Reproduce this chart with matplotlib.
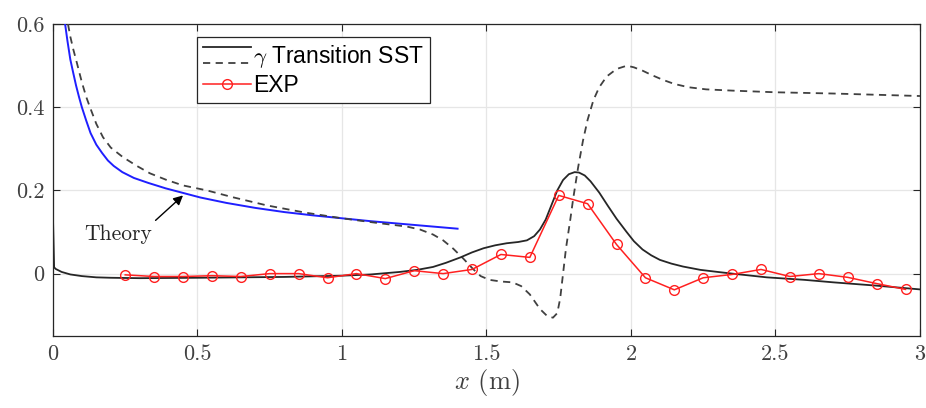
import matplotlib
matplotlib.use("Agg")
import matplotlib.pyplot as plt
from matplotlib.legend_handler import HandlerBase
from matplotlib.lines import Line2D
from matplotlib.ticker import FuncFormatter

plt.rcParams['font.family'] = 'serif'
plt.rcParams['font.serif'] = ['cmr10']
plt.rcParams['mathtext.fontset'] = 'cm'
plt.rcParams['axes.formatter.use_mathtext'] = True

# SST transition model, solid line
sst_x = [0.0, 0.004, 0.01, 0.03, 0.06, 0.1, 0.15, 0.2, 0.3, 0.5, 0.8, 1.0, 1.1, 1.2, 1.26,
         1.315, 1.36, 1.41, 1.45, 1.49, 1.53, 1.57, 1.61, 1.64, 1.665, 1.685, 1.705, 1.725,
         1.745, 1.765, 1.785, 1.805, 1.82, 1.84, 1.86, 1.89, 1.92, 1.95, 1.985, 2.01, 2.04,
         2.07, 2.1, 2.14, 2.18, 2.24, 2.3, 2.35, 2.47, 2.6, 2.7, 2.85, 3.0]
sst_y = [0.135, 0.015, 0.011, 0.004, -0.002, -0.006, -0.009, -0.01, -0.011, -0.01, -0.008,
         -0.005, -0.002, 0.004, 0.009, 0.016, 0.026, 0.039, 0.051, 0.061, 0.068, 0.073, 0.076,
         0.08, 0.09, 0.106, 0.13, 0.165, 0.2, 0.225, 0.239, 0.244, 0.243, 0.236, 0.222, 0.195,
         0.163, 0.132, 0.1, 0.078, 0.058, 0.044, 0.033, 0.024, 0.017, 0.009, 0.004, 0.0,
         -0.009, -0.015, -0.021, -0.029, -0.038]

# gamma model, dashed line
gam_x = [0.052, 0.06, 0.07, 0.083, 0.1, 0.115, 0.128, 0.15, 0.173, 0.2, 0.242, 0.29, 0.336,
         0.39, 0.45, 0.533, 0.62, 0.74, 0.87, 1.0, 1.12, 1.225, 1.27, 1.315, 1.35, 1.385,
         1.42, 1.455, 1.48, 1.51, 1.55, 1.59, 1.62, 1.65, 1.685, 1.71, 1.73, 1.745, 1.755,
         1.765, 1.775, 1.79, 1.8, 1.817, 1.834, 1.85, 1.87, 1.89, 1.916, 1.95, 1.986, 2.01,
         2.04, 2.07, 2.11, 2.15, 2.2, 2.26, 2.35, 2.5, 2.7, 2.85, 3.0]
gam_y = [0.6, 0.57, 0.54, 0.506, 0.46, 0.425, 0.4, 0.36, 0.328, 0.303, 0.28, 0.259, 0.241,
         0.226, 0.212, 0.2, 0.184, 0.164, 0.147, 0.133, 0.122, 0.113, 0.106, 0.094, 0.08,
         0.06, 0.036, 0.01, -0.006, -0.015, -0.019, -0.021, -0.03, -0.05, -0.085, -0.102,
         -0.106, -0.095, -0.06, 0.0, 0.06, 0.13, 0.18, 0.255, 0.32, 0.37, 0.417, 0.448, 0.474,
         0.492, 0.5, 0.496, 0.488, 0.478, 0.466, 0.456, 0.448, 0.443, 0.44, 0.436, 0.433,
         0.43, 0.427]

# laminar theory, blue
th_x = [0.042, 0.05, 0.06, 0.07, 0.08, 0.09, 0.1, 0.115, 0.13, 0.15, 0.17, 0.19, 0.21, 0.24,
        0.28, 0.33, 0.39, 0.45, 0.51, 0.6, 0.7, 0.8, 0.9, 1.0, 1.1, 1.2, 1.3, 1.4]
th_y = [0.6, 0.56, 0.515, 0.483, 0.452, 0.425, 0.4, 0.368, 0.338, 0.31, 0.29, 0.272, 0.259,
        0.244, 0.23, 0.218, 0.205, 0.194, 0.183, 0.17, 0.158, 0.148, 0.14, 0.133, 0.126,
        0.12, 0.114, 0.108]

# experiment
exp_x = [0.25, 0.35, 0.45, 0.55, 0.65, 0.75, 0.85, 0.95, 1.05, 1.15, 1.25, 1.35, 1.45, 1.55,
         1.65, 1.75, 1.85, 1.95, 2.05, 2.15, 2.25, 2.35, 2.45, 2.55, 2.65, 2.75, 2.85, 2.95]
exp_y = [-0.003, -0.007, -0.007, -0.005, -0.007, 0.0, 0.0, -0.01, 0.0, -0.012, 0.007, 0.0,
         0.01, 0.046, 0.039, 0.188, 0.168, 0.07, -0.01, -0.039, -0.01, -0.002, 0.01, -0.007,
         0.0, -0.009, -0.024, -0.038]


class TwoLineHandler(HandlerBase):
    # solid and dashed line stacked in one legend entry
    def create_artists(self, legend, orig_handle, xdescent, ydescent, width, height,
                       fontsize, trans):
        y1 = height * 0.95
        y2 = height * 0.0
        l1 = Line2D([-xdescent, width - xdescent], [y1, y1], color='#262626', lw=1.3)
        l2 = Line2D([-xdescent, width - xdescent], [y2, y2], color='#404040', lw=1.3,
                    ls=(0, (4, 3)))
        l1.set_transform(trans)
        l2.set_transform(trans)
        return [l1, l2]


fig = plt.figure(figsize=(9.26, 4.08), dpi=100)
ax = fig.add_axes([0.0572, 0.1765, 0.9363, 0.7645])

ax.plot(th_x, th_y, color='#1f1fff', lw=1.4, zorder=3)
ax.plot(gam_x, gam_y, color='#404040', lw=1.3, ls=(0, (4, 3)), zorder=3)
ax.plot(sst_x, sst_y, color='#262626', lw=1.3, zorder=4)
hexp, = ax.plot(exp_x, exp_y, color='#ff2020', lw=1.1, marker='o', markersize=7,
                markerfacecolor='none', markeredgewidth=1.0, zorder=5)

ax.text(0.225, 0.095, 'Theory', fontsize=15.5, ha='center', va='center', color='#262626')
ax.annotate('', xy=(0.45, 0.188), xytext=(0.355, 0.128),
            arrowprops=dict(arrowstyle='-|>', color='black', lw=1.0, mutation_scale=14,
                            shrinkA=0, shrinkB=0))

ax.set_xlim(0, 3)
ax.set_ylim(-0.15, 0.6)
ax.set_xticks([0, 0.5, 1, 1.5, 2, 2.5, 3])
ax.set_yticks([0, 0.2, 0.4, 0.6])
ax.xaxis.set_major_formatter(FuncFormatter(lambda v, p: '%g' % v))
ax.yaxis.set_major_formatter(FuncFormatter(lambda v, p: '%g' % v))
ax.tick_params(direction='in', top=True, right=True, labelsize=16, colors='#262626',
               length=5, width=0.8, labelcolor='#404040', pad=6)
ax.grid(True, color='#e6e6e6', lw=0.9)
ax.set_axisbelow(True)
for s in ax.spines.values():
    s.set_color('#262626')
    s.set_linewidth(0.9)
ax.set_xlabel('$x$ (m)', fontsize=19, color='#404040', labelpad=2)

leg = ax.legend([object(), hexp], [r'$\gamma$ Transition SST', 'EXP'],
                handler_map={object: TwoLineHandler()},
                loc='upper left', bbox_to_anchor=(197 / 926, 1 - 37 / 408),
                bbox_transform=fig.transFigure, borderaxespad=0,
                prop={'family': 'Liberation Sans', 'size': 16.5},
                handlelength=2.1, handletextpad=0.1, borderpad=0.25, labelspacing=0.2,
                fancybox=False, framealpha=1, edgecolor='#262626')
leg.get_frame().set_linewidth(0.9)

fig.savefig('out.png', dpi=100)
